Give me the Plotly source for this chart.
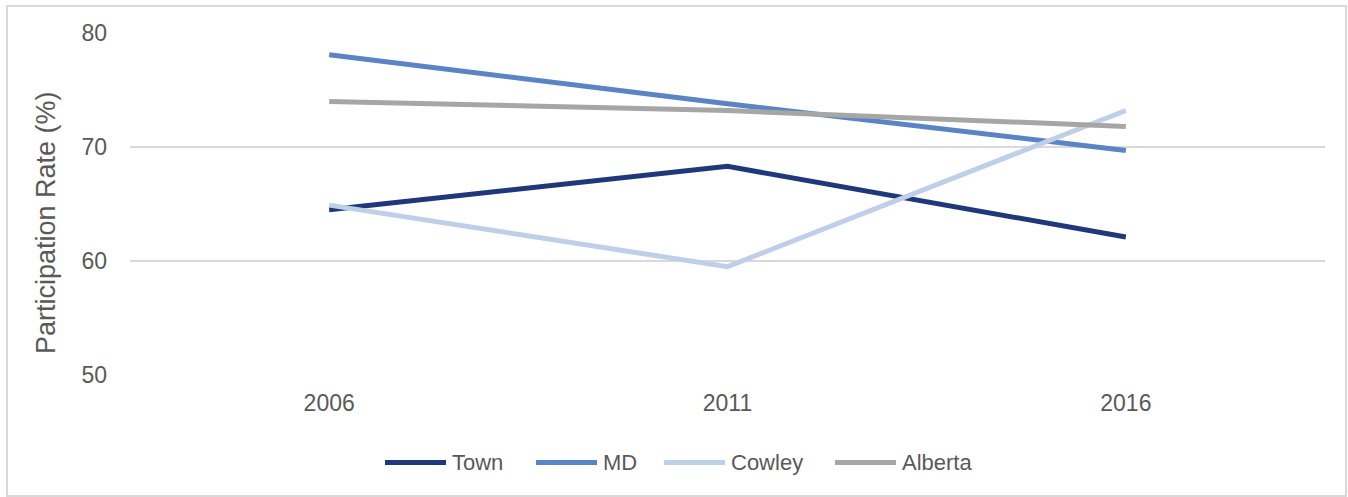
import plotly.graph_objects as go

years = ["2006", "2011", "2016"]
town = [64.5, 68.3, 62.1]
md = [78.1, 73.8, 69.7]
cowley = [64.9, 59.5, 73.2]
alberta = [74.0, 73.2, 71.8]

names = ["Town", "MD", "Cowley", "Alberta"]
values = [town, md, cowley, alberta]
colors = ["#1F3879", "#5A84C3", "#BFCFE8", "#A6A6A6"]

TEXT = "#595959"
FONT = "Liberation Sans, Arial, sans-serif"

# plot area in pixels
L, R, T, B = 130, 1348 - 1325, 33, 497 - 375
W = 1348 - L - R
H = 497 - T - B


def px_x(p):
    return (p - L) / W


def px_y(p):
    return (497 - B - p) / H


fig = go.Figure()
for name, vals, color in zip(names, values, colors):
    fig.add_trace(go.Scatter(
        x=years, y=vals, name=name, mode="lines",
        line=dict(color=color, width=5),
        showlegend=False,
    ))

# legend row drawn below the plot: swatch line + label
legend_x = [385, 536, 664, 835]
legend_y = 462.5
swatch = 61
shapes = []
annotations = []
for name, color, x0 in zip(names, colors, legend_x):
    shapes.append(dict(
        type="line", xref="paper", yref="paper",
        x0=px_x(x0), x1=px_x(x0 + swatch),
        y0=px_y(legend_y), y1=px_y(legend_y),
        line=dict(color=color, width=5),
    ))
    annotations.append(dict(
        text=name, xref="paper", yref="paper",
        x=px_x(x0 + swatch + 4), y=px_y(legend_y),
        xanchor="left", yanchor="middle", showarrow=False,
        font=dict(size=22, color=TEXT),
    ))

# outer chart border
shapes.append(dict(
    type="rect", xref="paper", yref="paper",
    x0=px_x(7), x1=px_x(1346), y0=px_y(496), y1=px_y(6),
    line=dict(color="#D9D9D9", width=2), fillcolor="rgba(0,0,0,0)",
    layer="below",
))

annotations.append(dict(
    text="Participation Rate (%)", textangle=-90,
    xref="paper", yref="paper",
    x=px_x(46), y=px_y(223),
    xanchor="center", yanchor="middle", showarrow=False,
    font=dict(size=27, color=TEXT),
))

fig.update_layout(
    width=1348, height=497,
    margin=dict(l=L, r=R, t=T, b=B),
    paper_bgcolor="white", plot_bgcolor="white",
    font=dict(family=FONT, color=TEXT, size=22),
    showlegend=False,
    xaxis=dict(
        type="category", range=[-0.5, 2.5],
        showgrid=False, zeroline=False, showline=False,
        ticks="", ticklabelstandoff=12,
        tickfont=dict(size=23, color=TEXT),
    ),
    yaxis=dict(
        range=[50, 80], tickvals=[50, 60, 70, 80],
        showgrid=True, gridcolor="#D9D9D9", gridwidth=2,
        zeroline=False, showline=False, ticks="",
        ticklabelstandoff=22,
        tickfont=dict(size=23, color=TEXT),
    ),
    shapes=shapes,
    annotations=annotations,
)

fig.write_html("out.html")
